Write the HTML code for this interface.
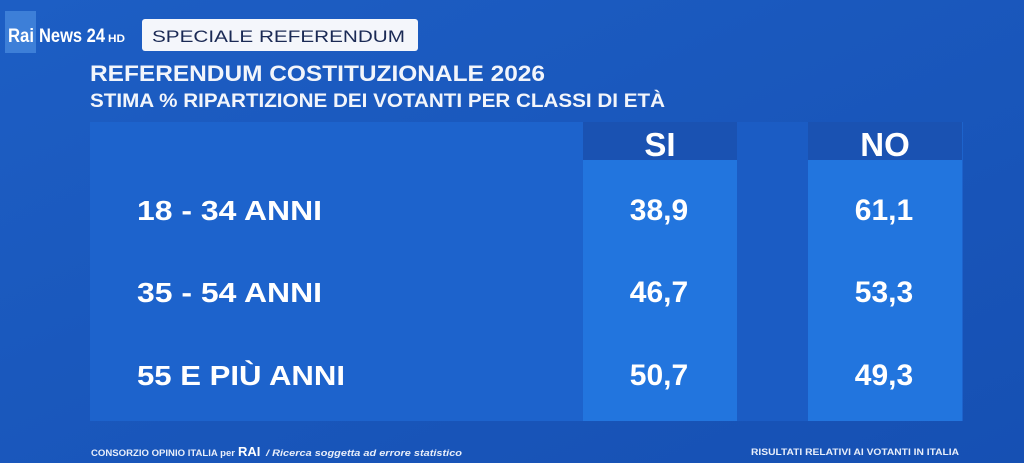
<!DOCTYPE html>
<html><head><meta charset="utf-8"><style>
html,body{margin:0;padding:0;width:1024px;height:463px;overflow:hidden;background:#1a55bb}
</style></head><body>
<svg width="1024" height="463" viewBox="0 0 1024 463" xmlns="http://www.w3.org/2000/svg" font-family="Liberation Sans, sans-serif" font-weight="bold">
<defs>
<linearGradient id="bg" x1="0" y1="0" x2="1" y2="1">
<stop offset="0" stop-color="#1d5ec4"/><stop offset="1" stop-color="#1650b3"/>
</linearGradient>
</defs>
<rect width="1024" height="463" fill="url(#bg)"/>
<!-- logo -->
<rect x="5" y="11" width="31" height="42" fill="#3d7fd8"/>
<text x="8" y="42" font-size="19" fill="#fff" textLength="26" lengthAdjust="spacingAndGlyphs">Rai</text>
<text x="39" y="42" font-size="19" fill="#fff" textLength="66" lengthAdjust="spacingAndGlyphs">News 24</text>
<text x="108" y="42" font-size="11" fill="#fff" textLength="17" lengthAdjust="spacingAndGlyphs">HD</text>
<rect x="142" y="19" width="276" height="32" rx="3" fill="#f4f6fb"/>
<text x="152" y="42" font-size="17" fill="#1b2a55" textLength="253" lengthAdjust="spacingAndGlyphs" font-weight="normal">SPECIALE REFERENDUM</text>
<!-- titles -->
<text x="90" y="81" font-size="22" fill="#f2f5fb" textLength="455" lengthAdjust="spacingAndGlyphs">REFERENDUM COSTITUZIONALE 2026</text>
<text x="90" y="107" font-size="19" fill="#f2f5fb" textLength="575" lengthAdjust="spacingAndGlyphs">STIMA % RIPARTIZIONE DEI VOTANTI PER CLASSI DI ETÀ</text>
<!-- panel -->
<rect x="90" y="122" width="873" height="299" fill="#1d63cc"/>
<rect x="583" y="122" width="154" height="38" fill="#1a52b2"/>
<rect x="583" y="160" width="154" height="261" fill="#2275de"/>
<rect x="737" y="122" width="71" height="299" fill="#1b5cc4"/>
<rect x="808" y="122" width="154" height="38" fill="#1a52b2"/>
<rect x="808" y="160" width="154" height="261" fill="#2275de"/>
<text x="660" y="156" font-size="33" fill="#fff" text-anchor="middle">SI</text>
<text x="885" y="156" font-size="33" fill="#fff" text-anchor="middle">NO</text>
<g font-size="28" fill="#fff">
<text x="137" y="220" textLength="185" lengthAdjust="spacingAndGlyphs">18 - 34 ANNI</text>
<text x="137" y="302" textLength="185" lengthAdjust="spacingAndGlyphs">35 - 54 ANNI</text>
<text x="137" y="385" textLength="208" lengthAdjust="spacingAndGlyphs">55 E PIÙ ANNI</text>
</g>
<g font-size="30" fill="#fff" text-anchor="middle">
<text x="659" y="220">38,9</text>
<text x="884" y="220">61,1</text>
<text x="659" y="302">46,7</text>
<text x="884" y="302">53,3</text>
<text x="659" y="385">50,7</text>
<text x="884" y="385">49,3</text>
</g>
<!-- footer -->
<text x="91" y="456" font-size="9" fill="#e8eefa" textLength="144" lengthAdjust="spacingAndGlyphs">CONSORZIO OPINIO ITALIA per</text>
<text x="238" y="456" font-size="13" fill="#fff">RAI</text>
<text x="266" y="456" font-size="9" fill="#e8eefa" font-style="italic" textLength="196" lengthAdjust="spacingAndGlyphs">/ Ricerca soggetta ad errore statistico</text>
<text x="751" y="455" font-size="9" fill="#e8eefa" textLength="208" lengthAdjust="spacingAndGlyphs">RISULTATI RELATIVI AI VOTANTI IN ITALIA</text>
</svg>
</body></html>
